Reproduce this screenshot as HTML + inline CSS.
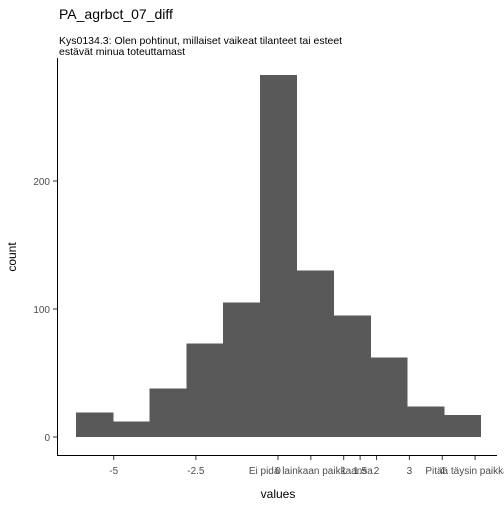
<!DOCTYPE html>
<html><head><meta charset="utf-8"><style>
body{margin:0;background:#fff;}
svg text{font-family:"Liberation Sans",Arial,sans-serif;}
</style></head><body>
<svg width="504" height="504" xmlns="http://www.w3.org/2000/svg">
<text x="59" y="19" font-size="14" fill="#000">PA_agrbct_07_diff</text>
<text x="59" y="44" font-size="10.5" fill="#000">Kys0134.3: Olen pohtinut, millaiset vaikeat tilanteet tai esteet</text>
<text x="59" y="55" font-size="10.5" fill="#000">estävät minua toteuttamast</text>
<g id="bars" shape-rendering="crispEdges"></g>
<g id="axes"></g>
<text x="278" y="498" font-size="12" text-anchor="middle" fill="#000">values</text>
<text transform="translate(16,257) rotate(-90)" font-size="12" text-anchor="middle" fill="#000">count</text>
</svg>
<script>
const binStarts=[-6.15,-5.03,-3.91,-2.79,-1.67,-0.55,0.57,1.69,2.81,3.93,5.05];
const binWidth=1.12;
const counts=[19,12,38,73,105,283,130,95,62,24,17];
const xTickVals=[-5,-2.5,0,1,2,2.5,3,4,5,6];
const xTickLabels=["-5","-2.5","0","Ei pidä lainkaan paikkaansa","1","1.5","2","3","4","Pitää täysin paikkansa"];
const yTickVals=[0,100,200];
const yTickLabels=["0","100","200"];
const NS="http://www.w3.org/2000/svg";
const sx=v=>278+v*32.85;
const sy=v=>437-v*1.28;
function mk(tag,attrs,parent){const e=document.createElementNS(NS,tag);for(const k in attrs)e.setAttribute(k,attrs[k]);parent.appendChild(e);return e;}
const bars=document.getElementById('bars'),axes=document.getElementById('axes');
counts.forEach((c,i)=>{
 const x0=sx(binStarts[i]),x1=sx(binStarts[i]+binWidth);
 const r=mk('rect',{x:x0,y:sy(c),width:x1-x0+0.5,height:sy(0)-sy(c),fill:'#595959'},bars);
 
 
});
const ya=mk('line',{x1:57.5,y1:58,x2:57.5,y2:455.5,stroke:'#000','stroke-width':1},axes);


const xa=mk('line',{x1:57,y1:455.5,x2:497,y2:455.5,stroke:'#000','stroke-width':1},axes);


yTickVals.forEach((v,i)=>{
 const y=sy(v);
 const t=mk('line',{x1:53,y1:y,x2:57,y2:y,stroke:'#333'},axes);
 
 
 const l=mk('text',{x:50,y:y+4,'font-size':10,'text-anchor':'end',fill:'#4d4d4d'},axes);
 l.textContent=yTickLabels[i];
 
 
});
xTickVals.forEach((v,i)=>{
 const x=sx(v);
 const t=mk('line',{x1:x,y1:456,x2:x,y2:460,stroke:'#333'},axes);
 
 
 const l=mk('text',{x:x,y:474,'font-size':10,'text-anchor':'middle',fill:'#4d4d4d'},axes);
 l.textContent=xTickLabels[i];
 
 
});
</script>
</body></html>
